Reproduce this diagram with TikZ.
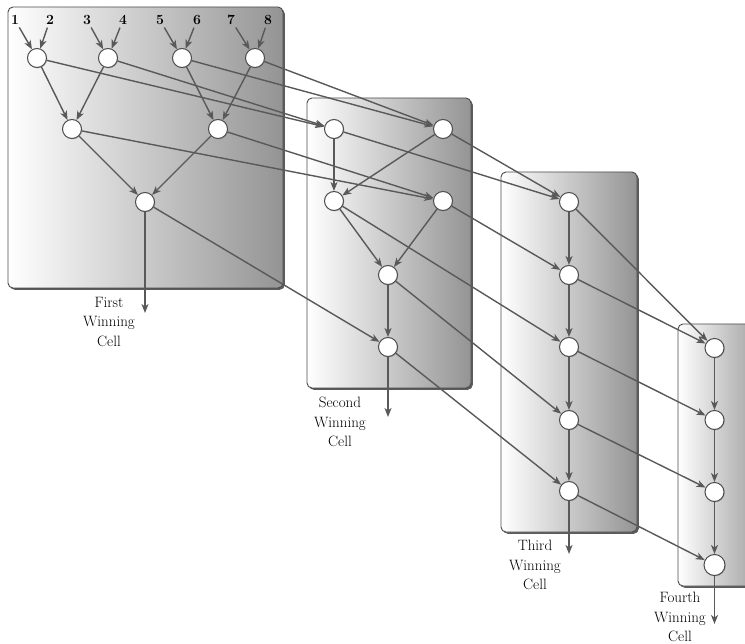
\documentclass[tikz,border=0pt]{standalone}
\usepackage{fontspec}
\usetikzlibrary{shadows,arrows.meta}
\begin{document}
\begin{tikzpicture}[x=1pt,y=-1pt,
  cellbox/.style={draw=black!70, line width=0.9pt, rounded corners=5pt, left color=white, right color=black!42,
    drop shadow={shadow xshift=1.8pt, shadow yshift=-1.8pt, opacity=0.75, fill=black!85}},
  vtx/.style={circle, draw=black!70, line width=1pt, fill=white, minimum size=19pt, inner sep=0pt,
    drop shadow={shadow xshift=0.8pt, shadow yshift=-0.8pt, opacity=0.5}},
  conn/.style={draw=black!65, line width=1.4pt, -{Stealth[length=9pt,width=7pt,inset=2.5pt]}},
  lbl/.style={align=center, font=\fontsize{15}{19.5}\selectfont, inner sep=0pt},
  num/.style={font=\fontsize{14}{14}\selectfont\bfseries, inner sep=0pt}
]
\useasboundingbox (0,0) rectangle (745,644);

% cell boxes
\path[cellbox] (8,7) rectangle (283,288);
\path[cellbox] (307,98) rectangle (471,388);
\path[cellbox] (501,172) rectangle (637,532);
\path[cellbox] (678,324) rectangle (770,586);

% input numbers
\node[num] (n1) at (15,20) {1};
\node[num] (n2) at (50,20) {2};
\node[num] (n3) at (87,20) {3};
\node[num] (n4) at (123,20) {4};
\node[num] (n5) at (160,20) {5};
\node[num] (n6) at (197,20) {6};
\node[num] (n7) at (231,20) {7};
\node[num] (n8) at (268,20) {8};

% first cell
\node[vtx] (A1) at (37,58) {};
\node[vtx] (A2) at (108,58) {};
\node[vtx] (A3) at (182,58) {};
\node[vtx] (A4) at (255,58) {};
\node[vtx] (B1) at (72,129) {};
\node[vtx] (B2) at (218,129) {};
\node[vtx] (C) at (145,202) {};
\coordinate (Cout) at (145,313);

% second cell
\node[vtx] (D1) at (334,129) {};
\node[vtx] (D2) at (443,129) {};
\node[vtx] (E1) at (334,201) {};
\node[vtx] (E2) at (443,201) {};
\node[vtx] (F) at (388,275) {};
\node[vtx] (G) at (388,347) {};
\coordinate (Gout) at (388,417);

% third cell
\node[vtx] (H1) at (569,202) {};
\node[vtx] (H2) at (569,275) {};
\node[vtx] (H3) at (569,347) {};
\node[vtx] (H4) at (569,420) {};
\node[vtx] (H5) at (569,491) {};
\coordinate (Hout) at (569,554);

% fourth cell
\node[vtx] (I1) at (714.5,348) {};
\node[vtx] (I2) at (714.5,420) {};
\node[vtx] (I3) at (714.5,492) {};
\node[vtx, minimum size=21pt] (I4) at (714.5,565) {};
\coordinate (Iout) at (714.5,624);

% labels
\node[lbl] (L1) at (109,322) {First\\Winning\\Cell};
\node[lbl] (L2) at (340,422) {Second\\Winning\\Cell};
\node[lbl] (L3) at (535,565) {Third\\Winning\\Cell};
\node[lbl] (L4) at (680,617) {Fourth\\Winning\\Cell};

% inputs
\foreach \n/\t in {n1/A1,n2/A1,n3/A2,n4/A2,n5/A3,n6/A3,n7/A4,n8/A4}
  \draw[conn, shorten <=3pt] (\n) -- (\t);

% first tree
\draw[conn] (A1) -- (B1);
\draw[conn] (A2) -- (B1);
\draw[conn] (A3) -- (B2);
\draw[conn] (A4) -- (B2);
\draw[conn] (B1) -- (C);
\draw[conn] (B2) -- (C);
\draw[conn] (C) -- (Cout);

% first -> second
\draw[conn] (A1) -- (D1);
\draw[conn] (A2) -- (D1);
\draw[conn] (A3) -- (D2);
\draw[conn] (A4) -- (D2);
\draw[conn] (B1) -- (E2);
\draw[conn] (B2) -- (E2);
\draw[conn] (C) -- (G);

% second tree
\draw[conn] (D1) -- (E1);
\draw[conn] (D2) -- (E1);
\draw[conn] (E1) -- (F);
\draw[conn] (E2) -- (F);
\draw[conn] (F) -- (G);
\draw[conn] (G) -- (Gout);

% second -> third
\draw[conn] (D1) -- (H1);
\draw[conn] (D2) -- (H1);
\draw[conn] (E2) -- (H2);
\draw[conn] (E1) -- (H3);
\draw[conn] (F) -- (H4);
\draw[conn] (G) -- (H5);

% third chain
\draw[conn] (H1) -- (H2);
\draw[conn] (H2) -- (H3);
\draw[conn] (H3) -- (H4);
\draw[conn] (H4) -- (H5);
\draw[conn] (H5) -- (Hout);

% third -> fourth
\draw[conn] (H1) -- (I1);
\draw[conn] (H2) -- (I1);
\draw[conn] (H3) -- (I2);
\draw[conn] (H4) -- (I3);
\draw[conn] (H5) -- (I4);

% fourth chain
\draw[conn] (I1) -- (I2);
\draw[conn] (I2) -- (I3);
\draw[conn] (I3) -- (I4);
\draw[conn] (I4) -- (Iout);
\end{tikzpicture}
\end{document}
